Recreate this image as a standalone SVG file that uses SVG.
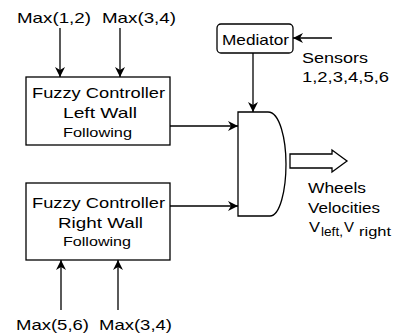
<svg xmlns="http://www.w3.org/2000/svg" width="393" height="335" viewBox="0 0 393 335">
<style>
text{font-family:"Liberation Sans",Arial,sans-serif;fill:#000;font-size:15px}
.s{font-size:13px}
.sub{font-size:12px}
.b{fill:#fff;stroke:#000;stroke-width:1.3}
.c{fill:none;stroke:#000;stroke-width:1.3}
</style>
<defs>
<marker id="ah" markerWidth="10" markerHeight="10" viewBox="0 0 10 10" refX="10" refY="5" orient="auto" markerUnits="userSpaceOnUse">
<path d="M0,0 L10,5 L0,10 L3,5 Z" fill="#000"/>
</marker>
</defs>
<g id="connectors">
<line class="c" x1="60" y1="28" x2="60" y2="77" marker-end="url(#ah)"/>
<line class="c" x1="120" y1="28" x2="120" y2="77" marker-end="url(#ah)"/>
<line class="c" x1="61" y1="310" x2="61" y2="260" marker-end="url(#ah)"/>
<line class="c" x1="118" y1="310" x2="118" y2="260" marker-end="url(#ah)"/>
<line class="c" x1="332" y1="38" x2="293" y2="38" marker-end="url(#ah)"/>
<line class="c" x1="253" y1="53" x2="253" y2="112" marker-end="url(#ah)"/>
<line class="c" x1="170" y1="126" x2="238" y2="126" marker-end="url(#ah)"/>
<line class="c" x1="170" y1="206" x2="238" y2="206" marker-end="url(#ah)"/>
<path class="b" d="M290,154 H332 V150 L347,161 L332,172 V168 H290 Z"/>
</g>
<g id="left-controller">
<rect class="b" x="26" y="77" width="144" height="68"/>
<text x="32" y="98" textLength="133" lengthAdjust="spacingAndGlyphs">Fuzzy Controller</text>
<text x="63" y="118" textLength="74" lengthAdjust="spacingAndGlyphs">Left Wall</text>
<text class="s" x="63" y="137" textLength="69" lengthAdjust="spacingAndGlyphs">Following</text>
</g>
<g id="right-controller">
<rect class="b" x="26" y="183" width="144" height="77"/>
<text x="32" y="208" textLength="133" lengthAdjust="spacingAndGlyphs">Fuzzy Controller</text>
<text x="58" y="228" textLength="85" lengthAdjust="spacingAndGlyphs">Right Wall</text>
<text class="s" x="63" y="246" textLength="68" lengthAdjust="spacingAndGlyphs">Following</text>
</g>
<g id="mediator">
<rect class="b" x="217" y="24" width="76" height="29" rx="4"/>
<text x="222" y="45" textLength="67" lengthAdjust="spacingAndGlyphs">Mediator</text>
</g>
<g id="fusion">
<path class="b" d="M238,112 H268 C280,112 286,140 286,164 C286,190 280,216 270,216 H238 Z"/>
</g>
<g id="labels">
<text x="17" y="23" textLength="74" lengthAdjust="spacingAndGlyphs">Max(1,2)</text>
<text x="102" y="23" textLength="74" lengthAdjust="spacingAndGlyphs">Max(3,4)</text>
<text x="16" y="330" textLength="73" lengthAdjust="spacingAndGlyphs">Max(5,6)</text>
<text x="99" y="330" textLength="73" lengthAdjust="spacingAndGlyphs">Max(3,4)</text>
<text x="302" y="63" textLength="66" lengthAdjust="spacingAndGlyphs">Sensors</text>
<text x="302" y="82" textLength="87" lengthAdjust="spacingAndGlyphs">1,2,3,4,5,6</text>
<text x="308" y="193" textLength="58" lengthAdjust="spacingAndGlyphs">Wheels</text>
<text x="308" y="213" textLength="72" lengthAdjust="spacingAndGlyphs">Velocities</text>
<text x="309" y="232" textLength="11" lengthAdjust="spacingAndGlyphs">V</text>
<text class="sub" x="321" y="236" textLength="22" lengthAdjust="spacingAndGlyphs">left,</text>
<text x="344" y="232" textLength="10" lengthAdjust="spacingAndGlyphs">V</text>
<text class="sub" x="359" y="236" textLength="32" lengthAdjust="spacingAndGlyphs">right</text>
</g>
</svg>
